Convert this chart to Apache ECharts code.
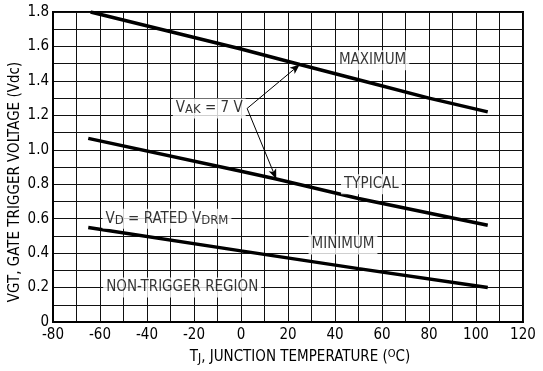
<!DOCTYPE html>
<html>
<head>
<meta charset="utf-8">
<script src="https://cdn.jsdelivr.net/npm/echarts@6/dist/echarts.min.js"></script>
<style>
html,body{margin:0;padding:0;background:#fff;}
#c{width:543px;height:371px;}
</style>
</head>
<body>
<div id="c"></div>
<script>
// ---- data ----
const maxTemp = [-64, 0, 25, 50, 80, 105];
const maxVgt  = [1.80, 1.585, 1.495, 1.407, 1.30, 1.22];

const typTemp = [-65, 0, 15, 50, 105];
const typVgt  = [1.066, 0.875, 0.83, 0.717, 0.562];

const minTemp = [-65, 0, 50, 105];
const minVgt  = [0.549, 0.413, 0.31, 0.20];

// annotations (data coordinates)
const annoText = ['MAXIMUM', 'V{sub|AK} = 7 V', 'TYPICAL', 'V{sub|D} = RATED V{sub|DRM}', 'MINIMUM', 'NON-TRIGGER REGION'];
const annoX    = [56, -13.5, 55.5, -31.5, 43.4, -25];
const annoY    = [1.52, 1.24, 0.80, 0.60, 0.45, 0.20];

// arrows from the V_AK label to the curves
const arrowFrom = [[2.6, 1.24], [2.6, 1.24]];
const arrowTo   = [[25, 1.495], [15, 0.83]];

const xTicks = [-80, -60, -40, -20, 0, 20, 40, 60, 80, 100, 120];
const yTicks = ['0', '0.2', '0.4', '0.6', '0.8', '1.0', '1.2', '1.4', '1.6', '1.8'];

const FONT = '"DejaVu Sans Condensed", "Liberation Sans Narrow", sans-serif';
const FS = 15;
const chart = echarts.init(document.getElementById('c'), null, {renderer: 'canvas'});

function pairs(xs, ys) { return xs.map((x, i) => [x, ys[i]]); }

const lineStyle = {color: '#000', width: 3.5};
const subStyle = {fontSize: 13, fontFamily: FONT, color: '#000', lineHeight: 16, verticalAlign: 'top', padding: [3, 0, 0, 0]};

const option = {
  animation: false,
  backgroundColor: '#fff',
  grid: {
    left: 53, right: 20, top: 12, bottom: 49, containLabel: false, outerBoundsMode: 'none',
    show: true, borderColor: '#000', borderWidth: 2, backgroundColor: 'transparent'
  },
  xAxis: {
    type: 'value', min: -80, max: 120, interval: 10,
    axisLine: {show: true, onZero: false, lineStyle: {color: '#000', width: 2}},
    axisTick: {show: false},
    splitLine: {show: true, lineStyle: {color: '#111', width: 1}},
    axisLabel: {
      color: '#000', fontSize: FS, fontFamily: FONT, margin: 6,
      formatter: v => (xTicks.indexOf(v) >= 0 ? String(v) : '')
    },
    name: 'T{sub|J}, JUNCTION TEMPERATURE ({sup|O}C)',
    nameLocation: 'middle', nameGap: 27, nameMoveOverlap: false,
    nameTextStyle: {
      color: '#000', fontSize: FS, fontFamily: FONT, padding: [0, 0, 0, 24], lineHeight: 16,
      rich: {
        sub: {fontSize: 12, fontFamily: FONT, color: '#000', lineHeight: 16, verticalAlign: 'top', padding: [4, 0, 0, 0]},
        sup: {fontSize: 11, fontFamily: FONT, color: '#000', lineHeight: 16, verticalAlign: 'top', padding: [0, 0, 5, 0]}
      }
    }
  },
  yAxis: {
    type: 'value', min: 0, max: 1.8, interval: 0.1,
    axisLine: {show: true, onZero: false, lineStyle: {color: '#000', width: 2}},
    axisTick: {show: false},
    splitLine: {show: true, lineStyle: {color: '#111', width: 1}},
    axisLabel: {
      color: '#000', fontSize: FS, fontFamily: FONT, margin: 4,
      formatter: v => { const k = Math.round(v * 10); return k % 2 ? '' : yTicks[k / 2]; }
    },
    name: 'VGT, GATE TRIGGER VOLTAGE (Vdc)',
    nameLocation: 'middle', nameGap: 30, nameRotate: 90, nameMoveOverlap: false,
    nameTextStyle: {color: '#000', fontSize: FS, fontFamily: FONT, padding: [0, 30, 0, 0]}
  },
  series: [
    {type: 'line', data: pairs(maxTemp, maxVgt), symbol: 'none', lineStyle: lineStyle, z: 3},
    {
      type: 'line', data: pairs(typTemp, typVgt), symbol: 'none', lineStyle: lineStyle, z: 3,
      markLine: {
        silent: true, symbol: ['none', 'arrow'], symbolSize: [6, 10],
        lineStyle: {color: '#000', width: 1, type: 'solid'},
        label: {show: false},
        data: arrowFrom.map((f, i) => [{coord: f}, {coord: arrowTo[i]}])
      }
    },
    {type: 'line', data: pairs(minTemp, minVgt), symbol: 'none', lineStyle: lineStyle, z: 3},
    {
      type: 'scatter', symbolSize: 0, z: 5, silent: true,
      data: annoText.map((t, i) => ({
        value: [annoX[i], annoY[i]],
        label: {formatter: t}
      })),
      label: {
        show: true, position: 'inside', color: '#000', fontSize: FS, fontFamily: FONT,
        backgroundColor: '#fff', padding: [2, 3], lineHeight: 16,
        rich: {sub: subStyle}
      }
    }
  ]
};
chart.setOption(option);
</script>
</body>
</html>
